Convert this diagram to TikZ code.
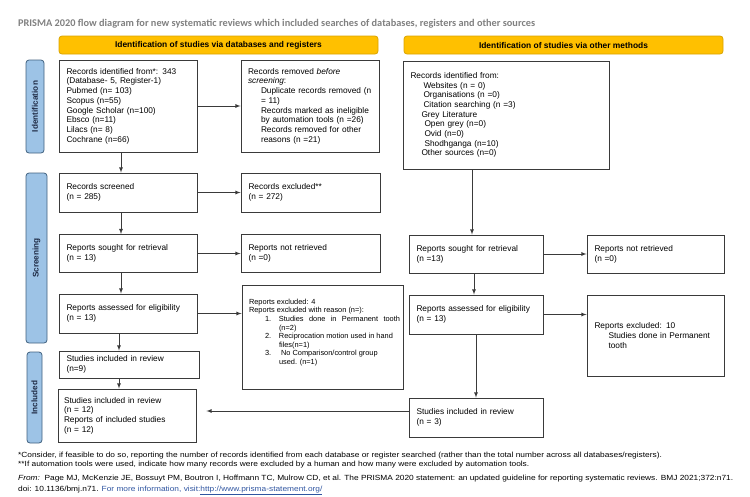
\documentclass[tikz,border=0pt]{standalone}
\usepackage{fontspec}
\setmainfont{Liberation Sans}
\newfontfamily\titlefont{Carlito}
\newfontfamily\notefont[FakeStretch=1.12]{Liberation Sans}
\usetikzlibrary{arrows}
\definecolor{hdrfill}{HTML}{FFC000}
\definecolor{hdrline}{HTML}{D9A300}
\definecolor{barfill}{HTML}{9DC3E6}
\definecolor{barline}{HTML}{41617F}
\definecolor{bartext}{HTML}{1F2B45}
\definecolor{boxline}{HTML}{3A3A3A}
\definecolor{titlegray}{HTML}{808080}
\definecolor{linkblue}{HTML}{2E54A0}
\newcommand\boxfont{\fontsize{8.3}{9.7}\selectfont}
\newcommand\reasonfont{\fontsize{7.4}{8.6}\selectfont}

\begin{document}
\begin{tikzpicture}[x=1pt,y=-1pt,
    box/.style={draw=boxline,line width=0.9pt,align=left,font=\boxfont,inner xsep=7.5pt,inner ysep=0pt},
    header/.style={draw=hdrline,fill=hdrfill,rounded corners=3pt,line width=0.8pt,
      font=\fontsize{8.4}{10}\selectfont\bfseries,minimum width=319pt,minimum height=18pt,inner sep=0pt},
    phase/.style={draw=barline,fill=barfill,rounded corners=3pt,line width=0.8pt,rotate=90,
      font=\fontsize{8.2}{10}\selectfont\bfseries,text=bartext,inner sep=0pt},
    note/.style={anchor=base west,inner sep=0pt,font=\notefont\fontsize{7.45}{9}\selectfont},
    every edge/.style={draw=boxline,line width=0.8pt,-latex}]
    \useasboundingbox (0,0) rectangle (750,496);
    \draw
    (18,24) node[anchor=west,inner sep=0pt,font=\titlefont\bfseries\fontsize{10.3}{12}\selectfont,text=titlegray] (title)
      {PRISMA 2020 flow diagram for new systematic reviews which included searches of databases, registers and other sources}
    (218.5,45) node[header] (hdb) {Identification of studies via databases and registers}
    (563.5,45) node[header] (hoth) {Identification of studies via other methods}
    (35,106.5) node[phase,minimum width=93pt,minimum height=18pt] (pid) {Identification}
    (36.5,258) node[phase,minimum width=170pt,minimum height=21pt] (pscr) {Screening}
    (34.5,397.5) node[phase,minimum width=91pt,minimum height=15pt] (pinc) {Included};
    % databases and registers
    \draw
    (128,106) node[box,text width=123pt,minimum height=92pt] (dbid)
      {Records identified from*: 343\\(Database- 5, Register-1)\\Pubmed (n= 103)\\Scopus (n=55)\\Google Scholar (n=100)\\Ebsco (n=11)\\Lilacs (n= 8)\\Cochrane (n=66)}
    (310,106) node[box,text width=128pt,inner xsep=5pt,minimum height=92pt] (dbrem)
      {\hspace*{2pt}Records removed \textit{before}\\\hspace*{2pt}\textit{screening}:\\\hspace*{15pt}Duplicate records removed (n\\\hspace*{15pt}= 11)\\\hspace*{15pt}Records marked as ineligible\\\hspace*{15pt}by automation tools (n =26)\\\hspace*{15pt}Records removed for other\\\hspace*{15pt}reasons (n =21)}
    (128,192.5) node[box,text width=123pt,minimum height=39pt] (dbscr) {Records screened\\(n = 285)}
    (310.5,192.5) node[box,text width=124pt,minimum height=39pt] (dbexc) {Records excluded**\\(n = 272)}
    (128,253.5) node[box,text width=123pt,minimum height=38pt] (dbsgt) {Reports sought for retrieval\\(n = 13)}
    (310.5,253.5) node[box,text width=124pt,minimum height=38pt] (dbnot) {Reports not retrieved\\(n =0)}
    (128,313.5) node[box,text width=123pt,minimum height=39pt] (dbass) {Reports assessed for eligibility\\(n = 13)}
    (322.5,337) node[box,minimum width=161pt,minimum height=104pt,inner xsep=0pt] (dbrsn)
      {\hspace*{4pt}\parbox[c][76pt][t]{151pt}{\reasonfont
        Reports excluded: 4\\
        Reports excluded with reason (n=):\\
        \hspace*{16pt}\makebox[14pt][l]{1.}\makebox[121pt][s]{Studies done in Permanent tooth}\\
        \hspace*{30pt}(n=2)\\
        \hspace*{16pt}\makebox[14pt][l]{2.}Reciprocation motion used in hand\\
        \hspace*{30pt}files(n=1)\\
        \hspace*{16pt}\makebox[14pt][l]{3.}\ No Comparison/control group\\
        \hspace*{30pt}used. (n=1)}}
    (129,364.5) node[box,text width=125pt,minimum height=27pt] (dbinc) {Studies included in review\\(n=9)}
    (127,415.5) node[box,text width=126pt,inner xsep=6pt,minimum height=53pt] (total)
      {Studies included in review\\(n = 12)\\Reports of included studies\\(n = 12)};
    % other methods
    \draw
    (506,115) node[box,text width=191pt,minimum height=108pt] (othid)
      {Records identified from:\\\hspace*{13pt}Websites (n = 0)\\\hspace*{13pt}Organisations (n =0)\\\hspace*{13pt}Citation searching (n =3)\\\hspace*{11pt}Grey Literature\\\hspace*{14pt}Open grey (n=0)\\\hspace*{14pt}Ovid (n=0)\\\hspace*{14pt}Shodhganga (n=10)\\\hspace*{11pt}Other sources (n=0)}
    (476,254) node[box,text width=119pt,minimum height=38pt] (othsgt) {Reports sought for retrieval\\(n =13)}
    (655.5,254) node[box,text width=122pt,minimum height=38pt] (othnot) {Reports not retrieved\\(n =0)}
    (476,314.5) node[box,text width=119pt,minimum height=39pt] (othass) {Reports assessed for eligibility\\(n = 13)}
    (655.5,335.5) node[box,text width=122pt,minimum height=81pt] (othexc)
      {Reports excluded: 10\\\hspace*{14pt}Studies done in Permanent\\\hspace*{14pt}tooth}
    (476,417.5) node[box,text width=119pt,minimum height=39pt] (othinc) {Studies included in review\\(n = 3)};
    \draw
    ([xshift=-7pt]dbid.south) edge ([xshift=-7pt]dbscr.north)
    (dbid) edge (dbrem)
    (dbscr) edge (dbexc)
    ([xshift=-7pt]dbscr.south) edge ([xshift=-7pt]dbsgt.north)
    (dbsgt) edge (dbnot)
    ([xshift=-7pt]dbsgt.south) edge ([xshift=-7pt]dbass.north)
    (dbass) edge (dbass -| dbrsn.west)
    ([xshift=-9pt]dbass.south) edge ([xshift=-9pt]dbass.south |- dbinc.north)
    ([xshift=-10pt]dbinc.south) edge ([xshift=-10pt]dbinc.south |- total.north)
    ([xshift=-4pt]othsgt.north |- othid.south) edge ([xshift=-4pt]othsgt.north)
    (othsgt) edge (othnot)
    ([xshift=-2pt]othsgt.south) edge ([xshift=-2pt]othass.north)
    (othass) edge (othass -| othexc.west)
    (othass) edge (othinc)
    ([yshift=6.5pt]othinc.west) edge[shorten >=10pt] ([yshift=6.5pt]othinc.west -| total.east);
    % notes
    \draw
    (18,457.6) node[note] (fn1) {*Consider, if feasible to do so, reporting the number of records identified from each database or register searched (rather than the total number across all databases/registers).}
    (18,466) node[note] (fn2) {**If automation tools were used, indicate how many records were excluded by a human and how many were excluded by automation tools.}
    (18,480) node[note] (src) {\textit{From:}\ \ Page MJ, McKenzie JE, Bossuyt PM, Boutron I, Hoffmann TC, Mulrow CD, et al. The PRISMA 2020 statement: an updated guideline for reporting systematic reviews. BMJ 2021;372:n71.}
    (18,491) node[note] (doi) {doi: 10.1136/bmj.n71. \textcolor{linkblue}{For more information, visit:\underline{http://www.prisma-statement.org/}}};
\end{tikzpicture}
\end{document}
